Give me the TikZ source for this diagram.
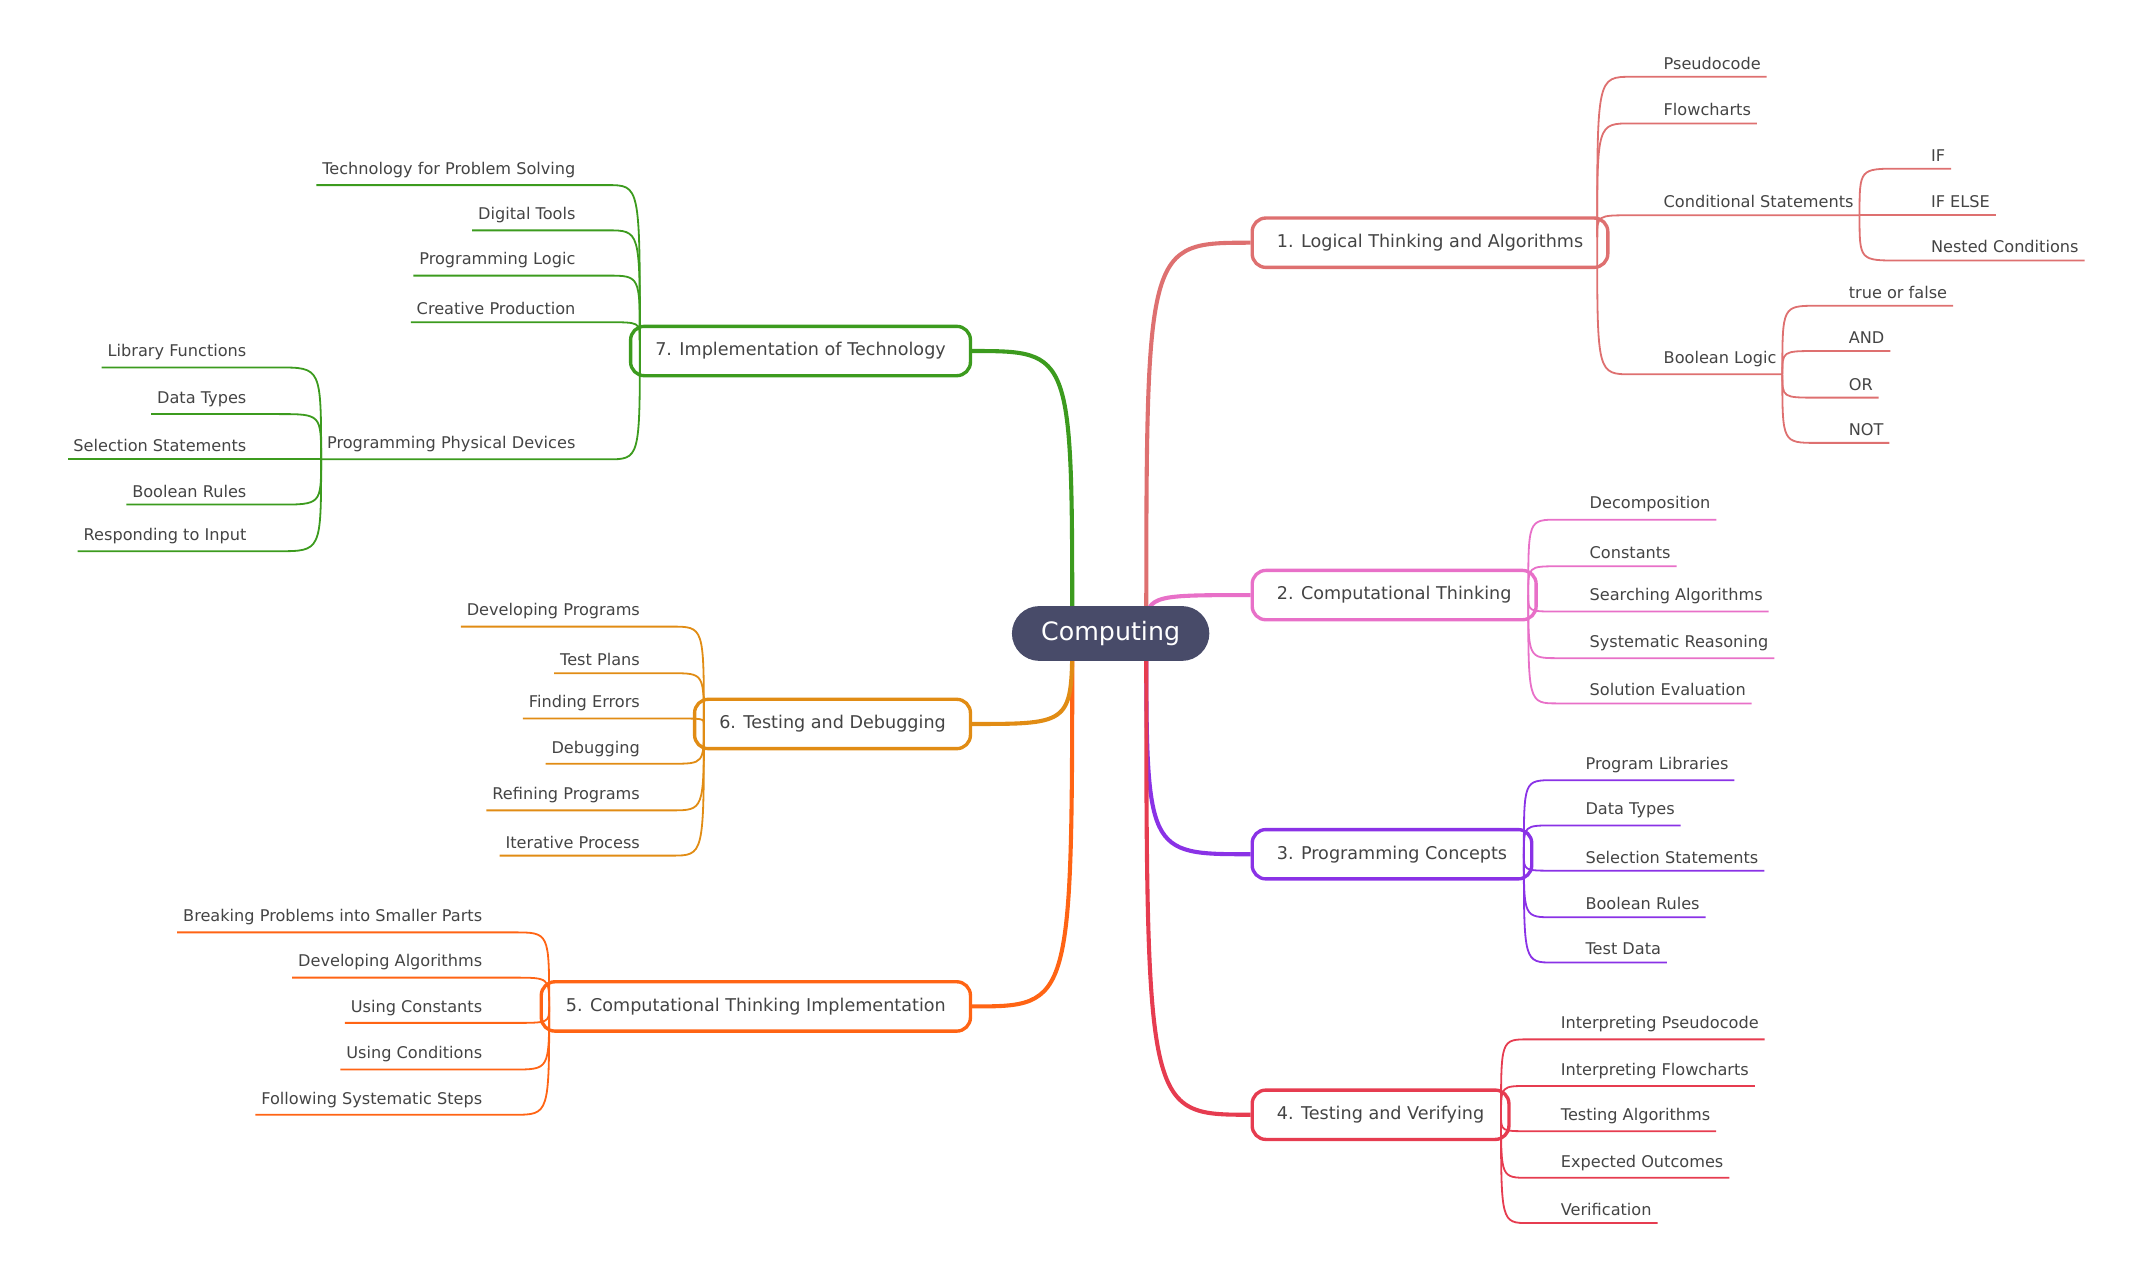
\documentclass[tikz,border=0pt]{standalone}
\usepackage{fontspec}
\setmainfont{DejaVu Sans}
\usetikzlibrary{calc}
\definecolor{rootblue}{RGB}{72,75,105}
\definecolor{txtgray}{RGB}{68,68,68}
\definecolor{logiccol}{RGB}{222,112,112}
\definecolor{compcol}{RGB}{232,112,200}
\definecolor{progcol}{RGB}{138,50,230}
\definecolor{testcol}{RGB}{230,60,80}
\definecolor{implcol}{RGB}{255,100,20}
\definecolor{debugcol}{RGB}{225,140,20}
\definecolor{techcol}{RGB}{60,155,30}

\tikzset{
  root/.style={fill=rootblue, text=white, rounded corners=0.4cm, minimum width=2.88cm,
    minimum height=0.8cm, font=\fontsize{10.5}{12}\selectfont},
  branch/.style={draw=#1, line width=1.4pt, rounded corners=0.2cm, fill=white,
    minimum height=0.72cm, inner xsep=0.36cm, text=txtgray, font=\fontsize{7.3}{9}\selectfont},
  trunk/.style={draw=#1, line width=1.7pt},
  twig/.style={draw=#1, line width=0.75pt},
  leaf/.style={inner xsep=0.08cm, inner ysep=0.1cm, text=txtgray, font=\fontsize{6.7}{8}\selectfont}
}

% leaves on the right of an origin: origin, text x, colour, list
\newcommand{\rightleaves}[4]{%
  \foreach \y/\t [count=\i] in {#4} {
    \node[leaf, anchor=south west] (#1-\i) at (#2-4, \y+12) {\t};
    \draw[twig=#3] (#1) .. controls (#1 |- #1-\i.south west) .. ([xshift=-0.38cm]#1-\i.south west) -- (#1-\i.south east);
  }}
% leaves on the left of an origin: origin, text right x, colour, list
\newcommand{\leftleaves}[4]{%
  \foreach \y/\t [count=\i] in {#4} {
    \node[leaf, anchor=south east] (#1-\i) at (#2+4, \y+12) {\t};
    \draw[twig=#3] (#1) .. controls (#1 |- #1-\i.south east) .. ([xshift=0.38cm]#1-\i.south east) -- (#1-\i.south west);
  }}

\begin{document}
\begin{tikzpicture}[x=0.02cm, y=-0.02cm]
    \useasboundingbox (0,0) rectangle (1560,920);

    % branches
    \node[branch=logiccol, anchor=west] (logic) at (912,177) {1. Logical Thinking and Algorithms};
    \node[branch=compcol, anchor=west] (comp) at (912,434) {2. Computational Thinking};
    \node[branch=progcol, anchor=west] (prog) at (912,623) {3. Programming Concepts};
    \node[branch=testcol, anchor=west] (test) at (912,813) {4. Testing and Verifying};
    \node[branch=implcol, anchor=east] (impl) at (709,734) {5. Computational Thinking Implementation};
    \node[branch=debugcol, anchor=east] (debug) at (709,528) {6. Testing and Debugging};
    \node[branch=techcol, anchor=east] (tech) at (709,256) {7. Implementation of Technology};

    % trunks
    \coordinate (rootR) at (836,462);
    \coordinate (rootL) at (782,462);
    \draw[trunk=logiccol] (rootR) .. controls (rootR |- logic.west) .. (logic.west);
    \draw[trunk=compcol] (rootR) .. controls (rootR |- comp.west) .. (comp.west);
    \draw[trunk=progcol] (rootR) .. controls (rootR |- prog.west) .. (prog.west);
    \draw[trunk=testcol] (rootR) .. controls (rootR |- test.west) .. (test.west);
    \draw[trunk=implcol] (rootL) .. controls (rootL |- impl.east) .. (impl.east);
    \draw[trunk=debugcol] (rootL) .. controls (rootL |- debug.east) .. (debug.east);
    \draw[trunk=techcol] (rootL) .. controls (rootL |- tech.east) .. (tech.east);

    \node[root] (computing) at (810,462) {Computing};

    % leaves
    \coordinate (logic-o) at ($(logic.east)+(-9,-4)$);
    \rightleaves{logic-o}{1213}{logiccol}{44/Pseudocode, 78/Flowcharts, 145/Conditional Statements, 261/Boolean Logic}
    \coordinate (cond-o) at (logic-o-3.south east);
    \rightleaves{cond-o}{1408}{logiccol}{111/IF, 145/IF ELSE, 178/Nested Conditions}
    \coordinate (bool-o) at (logic-o-4.south east);
    \rightleaves{bool-o}{1348}{logiccol}{211/true or false, 244/AND, 278/OR, 311/NOT}

    \coordinate (comp-o) at ($(comp.east)+(-7,0)$);
    \rightleaves{comp-o}{1159}{compcol}{367/Decomposition, 401/Constants, 434/Searching Algorithms, 468/Systematic Reasoning, 501/Solution Evaluation}
    \coordinate (prog-o) at ($(prog.east)+(-7,0)$);
    \rightleaves{prog-o}{1156}{progcol}{557/Program Libraries, 590/Data Types, 623/Selection Statements, 657/Boolean Rules, 690/Test Data}
    \coordinate (test-o) at ($(test.east)+(-7,0)$);
    \rightleaves{test-o}{1138}{testcol}{746/Interpreting Pseudocode, 780/Interpreting Flowcharts, 813/Testing Algorithms, 847/Expected Outcomes, 880/Verification}

    \coordinate (impl-o) at ($(impl.west)+(7,0)$);
    \leftleaves{impl-o}{352}{implcol}{668/Breaking Problems into Smaller Parts, 701/Developing Algorithms, 734/Using Constants, 768/Using Conditions, 801/Following Systematic Steps}
    \coordinate (debug-o) at ($(debug.west)+(8,0)$);
    \leftleaves{debug-o}{467}{debugcol}{445/Developing Programs, 479/Test Plans, 512/Finding Errors, 545/Debugging, 579/Refining Programs, 612/Iterative Process}
    \coordinate (tech-o) at ($(tech.west)+(8,-8)$);
    \leftleaves{tech-o}{420}{techcol}{123/Technology for Problem Solving, 156/Digital Tools, 189/Programming Logic, 223/Creative Production, 323/Programming Physical Devices}
    \coordinate (dev-o) at (tech-o-5.south west);
    \leftleaves{dev-o}{180}{techcol}{256/Library Functions, 290/Data Types, 323/Selection Statements, 356/Boolean Rules, 390/Responding to Input}
\end{tikzpicture}
\end{document}
